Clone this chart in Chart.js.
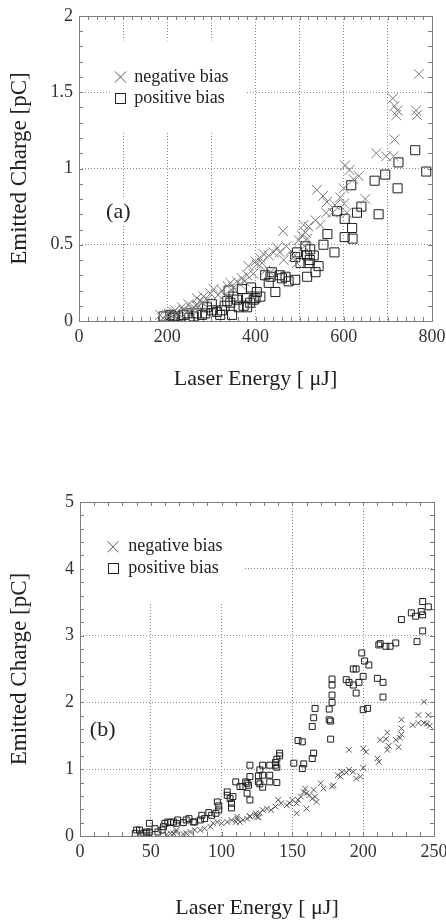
<!DOCTYPE html>
<html>
<head>
<meta charset="utf-8">
<script src="https://cdn.jsdelivr.net/npm/chart.js@4.4.1/dist/chart.umd.min.js"></script>
<style>
  html, body { margin: 0; padding: 0; background: #fff; }
  body { width: 446px; height: 923px; position: relative; overflow: hidden; }
  canvas { position: absolute; left: 0; }
  #chartA { top: 0; }
  #chartB { top: 460px; }
</style>
</head>
<body>
<canvas id="chartA" width="446" height="400"></canvas>
<canvas id="chartB" width="446" height="463"></canvas>
<script>
// (a) laser energy [uJ] vs emitted charge [pC]
const topNegEnergy = [770, 711, 715, 722, 719, 764, 766, 715, 674, 696, 713, 603, 613, 622, 634, 600, 539, 553, 592, 649,
  562, 601, 607, 575, 509, 520, 536, 547, 462, 513, 517, 511, 449, 441, 430, 418, 411, 400, 384, 403,
  464, 486, 494, 422, 434, 381, 369, 358, 343, 336, 324, 305, 298, 282, 267, 248, 233, 218, 203, 184,
  498, 214, 237, 256, 271, 199, 190, 210, 225, 245, 260, 280, 290, 315, 330, 350, 365, 375, 395, 415,
  455, 470, 480, 560, 580, 505, 266, 275];
const topNegCharge = [1.62, 1.46, 1.41, 1.38, 1.35, 1.38, 1.35, 1.19, 1.10, 1.08, 1.08, 1.02, 0.99, 0.93, 0.95, 0.87, 0.86, 0.82, 0.81, 0.80,
  0.78, 0.77, 0.71, 0.71, 0.63, 0.62, 0.66, 0.63, 0.59, 0.58, 0.54, 0.49, 0.48, 0.45, 0.43, 0.44, 0.41, 0.39, 0.36, 0.37,
  0.40, 0.42, 0.38, 0.33, 0.32, 0.30, 0.28, 0.26, 0.25, 0.23, 0.20, 0.21, 0.18, 0.16, 0.15, 0.11, 0.09, 0.07, 0.05, 0.04,
  0.53, 0.06, 0.07, 0.08, 0.10, 0.04, 0.02, 0.03, 0.05, 0.06, 0.09, 0.12, 0.14, 0.17, 0.17, 0.22, 0.24, 0.26, 0.31, 0.38,
  0.45, 0.49, 0.46, 0.71, 0.76, 0.56, 0.10, 0.13];
const topPosEnergy = [762, 724, 787, 694, 670, 617, 722, 585, 602, 630, 640, 679, 619, 602, 620, 563, 554, 579, 513, 524,
  517, 523, 532, 494, 490, 502, 543, 536, 517, 490, 475, 468, 460, 445, 437, 434, 430, 403, 411, 396,
  381, 381, 362, 358, 343, 336, 324, 313, 320, 301, 301, 286, 279, 267, 260, 237, 214, 214, 207, 192,
  369, 339, 422, 225, 245, 250, 290, 330, 350, 390, 455, 520, 218, 347, 373, 388, 400];
const topPosCharge = [1.12, 1.04, 0.98, 0.96, 0.92, 0.89, 0.87, 0.72, 0.67, 0.71, 0.75, 0.70, 0.61, 0.55, 0.54, 0.57, 0.50, 0.45, 0.49, 0.47,
  0.43, 0.40, 0.43, 0.45, 0.42, 0.38, 0.36, 0.32, 0.29, 0.27, 0.26, 0.29, 0.28, 0.19, 0.32, 0.29, 0.25, 0.19, 0.16, 0.14,
  0.15, 0.09, 0.09, 0.14, 0.12, 0.13, 0.07, 0.06, 0.04, 0.11, 0.07, 0.05, 0.04, 0.05, 0.03, 0.04, 0.03, 0.02, 0.04, 0.03,
  0.21, 0.20, 0.30, 0.03, 0.05, 0.02, 0.09, 0.10, 0.16, 0.22, 0.30, 0.38, 0.03, 0.04, 0.10, 0.12, 0.15];

// (b)
const botNegEnergy = [243, 239, 246, 235, 239, 243, 245, 247, 227, 227, 227, 226, 217, 216, 225, 218, 217, 223, 212, 211,
  210, 200, 202, 190, 200, 198, 195, 193, 190, 188, 185, 182, 178, 179, 184, 172, 170, 165, 166, 162,
  160, 159, 167, 164, 158, 156, 154, 153, 160, 150, 148, 146, 142, 140, 138, 135, 132, 129, 127, 125,
  124, 120, 118, 115, 113, 111, 110, 107, 104, 100, 97, 94, 92, 88, 85, 81, 78, 75, 73, 68,
  66, 64, 61, 68, 48, 45, 42, 47, 153, 111, 120, 124, 126];
const botNegCharge = [2.01, 1.81, 1.81, 1.66, 1.69, 1.69, 1.68, 1.65, 1.74, 1.61, 1.52, 1.47, 1.55, 1.45, 1.33, 1.35, 1.29, 1.44, 1.44, 1.11,
  1.16, 1.31, 1.26, 1.29, 1.02, 0.89, 0.86, 0.96, 0.99, 0.95, 0.96, 0.91, 0.74, 0.76, 0.89, 0.71, 0.79, 0.69, 0.59, 0.61,
  0.64, 0.71, 0.51, 0.56, 0.66, 0.59, 0.54, 0.49, 0.41, 0.54, 0.49, 0.46, 0.49, 0.54, 0.44, 0.39, 0.41, 0.39, 0.34, 0.29,
  0.34, 0.29, 0.26, 0.24, 0.21, 0.29, 0.21, 0.24, 0.21, 0.19, 0.21, 0.19, 0.14, 0.11, 0.09, 0.09, 0.06, 0.04, 0.03, 0.06,
  0.04, 0.04, 0.02, 0.09, 0.05, 0.02, 0.03, 0.02, 0.34, 0.26, 0.30, 0.31, 0.28];
const botPosEnergy = [242, 246, 234, 237, 241, 242, 227, 242, 238, 199, 211, 212, 216, 219, 223, 201, 204, 193, 195, 188,
  190, 193, 197, 200, 195, 210, 214, 214, 200, 203, 178, 178, 178, 178, 176, 176, 177, 177, 166, 165,
  164, 165, 164, 154, 157, 158, 157, 141, 141, 139, 138, 134, 138, 139, 151, 139, 129, 127, 126, 129,
  134, 134, 126, 127, 129, 120, 117, 118, 119, 120, 115, 118, 120, 113, 110, 104, 104, 106, 107, 107,
  108, 97, 98, 98, 96, 93, 91, 86, 88, 85, 81, 80, 77, 75, 73, 69, 68, 66, 64, 62,
  60, 59, 58, 55, 53, 49, 47, 45, 42, 40, 39, 47, 49];
const botPosCharge = [3.51, 3.43, 3.34, 3.29, 3.36, 3.31, 3.24, 3.07, 2.91, 2.74, 2.86, 2.88, 2.84, 2.84, 2.89, 2.62, 2.56, 2.50, 2.50, 2.34,
  2.30, 2.26, 2.30, 2.39, 2.14, 2.36, 2.30, 2.08, 1.89, 1.91, 2.35, 2.26, 2.11, 2.00, 1.90, 1.74, 1.72, 1.45, 1.91, 1.77,
  1.64, 1.24, 1.16, 1.43, 1.41, 1.08, 1.01, 1.24, 1.20, 1.15, 1.10, 1.06, 1.06, 1.03, 1.09, 0.80, 1.06, 0.99, 0.90, 0.91,
  0.91, 0.81, 0.81, 0.78, 0.73, 1.06, 0.81, 0.79, 0.76, 0.89, 0.74, 0.64, 0.54, 0.74, 0.81, 0.66, 0.61, 0.56, 0.49, 0.42,
  0.59, 0.51, 0.45, 0.39, 0.34, 0.31, 0.35, 0.31, 0.26, 0.24, 0.21, 0.21, 0.26, 0.24, 0.20, 0.24, 0.19, 0.21, 0.20, 0.21,
  0.19, 0.14, 0.09, 0.06, 0.11, 0.19, 0.06, 0.04, 0.09, 0.09, 0.04, 0.04, 0.06];

const topXLabels = [0, 200, 400, 600, 800];
const botXLabels = [0, 50, 100, 150, 200, 250];
const legendNames = ['negative bias', 'positive bias'];

const SERIF = '"Liberation Serif", "Times New Roman", serif';

function points(xs, ys) {
  return xs.map((x, i) => ({ x, y: ys[i] }));
}

// frame, inward minor ticks, blank areas behind legend, legend and panel label
const framePlugin = {
  id: 'frame',
  beforeDatasetsDraw(chart, args, o) {
    const { ctx, chartArea: a, scales: { x, y } } = chart;
    ctx.save();
    ctx.fillStyle = '#fff';
    o.blanks.forEach(b => {
      const x0 = Math.max(x.getPixelForValue(b[0]), a.left + 1);
      const x1 = x.getPixelForValue(b[1]);
      const y0 = Math.max(y.getPixelForValue(b[2]), a.top + 1);
      const y1 = y.getPixelForValue(b[3]);
      ctx.fillRect(x0, y0, x1 - x0, y1 - y0);
    });
    ctx.strokeStyle = '#7c7c7c';
    ctx.lineWidth = 1;
    ctx.beginPath();
    for (let v = x.min; v <= x.max + 1e-6; v += o.xMinor) {
      const p = Math.round(x.getPixelForValue(v)) + 0.5;
      ctx.moveTo(p, a.bottom); ctx.lineTo(p, a.bottom - 4);
      ctx.moveTo(p, a.top); ctx.lineTo(p, a.top + 4);
    }
    for (let v = y.min; v <= y.max + 1e-6; v += o.yMinor) {
      const p = Math.round(y.getPixelForValue(v)) + 0.5;
      ctx.moveTo(a.left, p); ctx.lineTo(a.left + 4, p);
      ctx.moveTo(a.right, p); ctx.lineTo(a.right - 4, p);
    }
    ctx.stroke();
    ctx.strokeRect(Math.round(a.left) + 0.5, Math.round(a.top) + 0.5,
      Math.round(a.right - a.left), Math.round(a.bottom - a.top));
    ctx.restore();
  },
  afterDraw(chart, args, o) {
    const { ctx, scales: { x, y } } = chart;
    ctx.save();
    const mx = x.getPixelForValue(o.legendX);
    const tx = x.getPixelForValue(o.legendTextX);
    const y1 = y.getPixelForValue(o.legendY[0]);
    const y2 = y.getPixelForValue(o.legendY[1]);
    ctx.lineWidth = 1;
    ctx.strokeStyle = '#555';
    ctx.beginPath();
    ctx.moveTo(mx - 5.5, y1 - 5.5); ctx.lineTo(mx + 5.5, y1 + 5.5);
    ctx.moveTo(mx + 5.5, y1 - 5.5); ctx.lineTo(mx - 5.5, y1 + 5.5);
    ctx.stroke();
    ctx.strokeStyle = '#222';
    ctx.strokeRect(Math.round(mx - 5) + 0.5, Math.round(y2 - 5) + 0.5, 10, 10);
    ctx.fillStyle = '#222';
    ctx.font = '18px ' + SERIF;
    ctx.textBaseline = 'middle';
    ctx.fillText(legendNames[0], tx, y1);
    ctx.fillText(legendNames[1], tx, y2);
    ctx.font = o.panelSize + 'px ' + SERIF;
    ctx.textAlign = 'center';
    ctx.fillText(o.panel, x.getPixelForValue(o.panelX), y.getPixelForValue(o.panelY));
    ctx.restore();
  }
};

function makeChart(id, cfg) {
  return new Chart(document.getElementById(id), {
    type: 'scatter',
    data: {
      datasets: [
        {
          label: legendNames[0],
          data: points(cfg.negX, cfg.negY),
          pointStyle: 'crossRot',
          pointRadius: cfg.negR,
          borderColor: cfg.negColor,
          backgroundColor: 'rgba(0,0,0,0)',
          borderWidth: 1
        },
        {
          label: legendNames[1],
          data: points(cfg.posX, cfg.posY),
          pointStyle: 'rect',
          pointRadius: cfg.posR,
          borderColor: '#1e1e1e',
          backgroundColor: 'rgba(0,0,0,0)',
          borderWidth: 1
        }
      ]
    },
    options: {
      responsive: false,
      animation: false,
      events: [],
      layout: { padding: { top: cfg.padTop, right: cfg.padRight, left: 0, bottom: 0 } },
      plugins: {
        legend: { display: false },
        tooltip: { enabled: false },
        frame: cfg.frame
      },
      scales: {
        x: {
          type: 'linear',
          min: 0,
          max: cfg.xMax,
          afterFit: s => { s.height = cfg.xHeight; s.paddingLeft = 0; s.paddingRight = 0; },
          grid: { color: '#8c8c8c', drawTicks: false },
          border: { display: false, dash: [1, 2] },
          ticks: {
            stepSize: cfg.xStep,
            padding: 5,
            color: '#333',
            font: { family: SERIF, size: 18 },
            maxRotation: 0,
            autoSkip: false,
            callback: v => cfg.xLabels.includes(v) ? String(v) : ''
          },
          title: {
            display: true,
            text: 'Laser Energy [ μJ]',
            color: '#222',
            font: { family: SERIF, size: 22 },
            padding: { top: 0, bottom: cfg.xTitlePad }
          }
        },
        y: {
          type: 'linear',
          min: 0,
          max: cfg.yMax,
          afterFit: s => { s.width = cfg.yWidth; s.paddingTop = 0; s.paddingBottom = 0; },
          grid: { color: '#8c8c8c', drawTicks: false },
          border: { display: false, dash: [1, 2] },
          ticks: {
            stepSize: cfg.yStep,
            padding: 6,
            color: '#333',
            font: { family: SERIF, size: 18 },
            callback: v => String(+v.toFixed(2))
          },
          title: {
            display: true,
            text: 'Emitted Charge [pC]',
            color: '#222',
            font: { family: SERIF, size: 23 },
            padding: { top: 6, bottom: 0 }
          }
        }
      }
    },
    plugins: [framePlugin]
  });
}

makeChart('chartA', {
  negX: topNegEnergy, negY: topNegCharge, posX: topPosEnergy, posY: topPosCharge,
  negR: 7, posR: 6.4, negColor: '#7a7a7a',
  xMax: 800, xStep: 100, xLabels: topXLabels, yMax: 2, yStep: 0.5,
  padTop: 16, padRight: 14, xHeight: 79, yWidth: 79, xTitlePad: 8,
  frame: {
    xMinor: 20, yMinor: 0.1,
    blanks: [[71, 377, 1.84, 1.24], [48, 130, 0.80, 0.63]],
    legendX: 94, legendTextX: 125, legendY: [1.60, 1.46],
    panel: '(a)', panelSize: 22, panelX: 89, panelY: 0.715
  }
});

makeChart('chartB', {
  negX: botNegEnergy, negY: botNegCharge, posX: botPosEnergy, posY: botPosCharge,
  negR: 4, posR: 4.2, negColor: '#555',
  xMax: 250, xStep: 50, xLabels: botXLabels, yMax: 5, yStep: 1,
  padTop: 42, padRight: 12, xHeight: 87, yWidth: 80, xTitlePad: 2,
  frame: {
    xMinor: 10, yMinor: 0.2,
    blanks: [[0, 115, 5, 3.5]],
    legendX: 23.3, legendTextX: 34, legendY: [4.33, 4.01],
    panel: '(b)', panelSize: 22, panelX: 16, panelY: 1.59
  }
});
</script>
</body>
</html>
